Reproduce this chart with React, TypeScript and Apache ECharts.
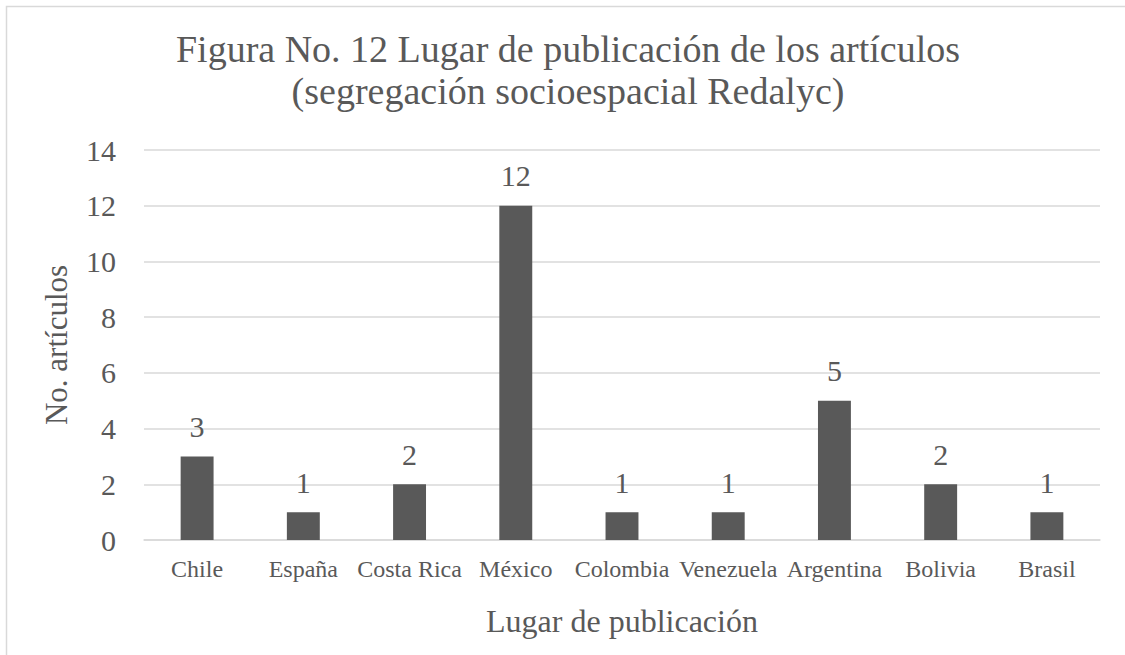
import React, { useEffect, useRef } from "react";
import * as echarts from "echarts";

const categories = ["Chile", "España", "Costa Rica", "México", "Colombia", "Venezuela", "Argentina", "Bolivia", "Brasil"];
const values = [3, 1, 2, 12, 1, 1, 5, 2, 1];
const titleLines = ["Figura No. 12 Lugar de publicación de los artículos", "(segregación socioespacial Redalyc)"];
const xName = "Lugar de publicación";
const yName = "No. artículos";

const FONT = "'Liberation Serif', 'Times New Roman', serif";
const TXT = "#595959";

export default function App() {
  const ref = useRef<HTMLDivElement>(null);
  useEffect(() => {
    const chart = echarts.init(ref.current!, null, { renderer: "svg" });
    chart.setOption({
      animation: false,
      backgroundColor: "#ffffff",
      textStyle: { fontFamily: FONT },
      graphic: [
        {
          type: "rect",
          shape: { x: 6.5, y: 6.5, width: 1300, height: 800 },
          style: { fill: "none", stroke: "#d9d9d9", lineWidth: 1.5 },
          silent: true,
        },
        {
          type: "text",
          x: 568,
          y: 70,
          style: {
            text: titleLines.join("\n"),
            fill: TXT,
            font: `38px ${FONT}`,
            align: "center",
            verticalAlign: "middle",
            lineHeight: 42,
          },
        },
      ],
      grid: { left: 144, right: 25, top: 150, bottom: 115 },
      xAxis: {
        type: "category",
        data: categories,
        name: xName,
        nameLocation: "middle",
        nameGap: 65,
        nameTextStyle: { color: TXT, fontSize: 32, fontFamily: FONT },
        axisLine: { show: true, lineStyle: { color: "#d9d9d9", width: 1.5 } },
        axisTick: { show: false },
        axisLabel: { color: TXT, fontSize: 24, fontFamily: FONT, margin: 17, interval: 0 },
      },
      yAxis: {
        type: "value",
        min: 0,
        max: 14,
        interval: 2,
        name: yName,
        nameLocation: "middle",
        nameGap: 72,
        nameTextStyle: { color: TXT, fontSize: 31, fontFamily: FONT },
        axisLine: { show: false },
        axisTick: { show: false },
        axisLabel: { color: TXT, fontSize: 30, fontFamily: FONT, margin: 28 },
        splitLine: { lineStyle: { color: "#d9d9d9", width: 1.5 } },
      },
      series: [
        {
          type: "bar",
          data: values,
          barWidth: "31%",
          itemStyle: { color: "#595959" },
          label: {
            show: true,
            position: "top",
            distance: 15,
            color: TXT,
            fontSize: 30,
            fontFamily: FONT,
          },
        },
      ],
    });
    return () => chart.dispose();
  }, []);
  return (
    <div
      ref={ref}
      style={{ position: "fixed", left: 0, top: 0, width: 1125, height: 655 }}
    />
  );
}
